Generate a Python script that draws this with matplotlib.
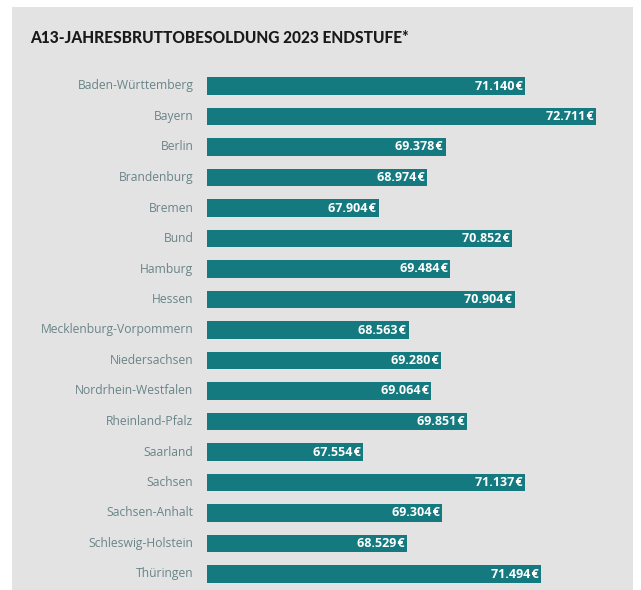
import matplotlib
matplotlib.use("Agg")
import matplotlib.pyplot as plt

states = ["Baden-Württemberg", "Bayern", "Berlin", "Brandenburg", "Bremen", "Bund",
          "Hamburg", "Hessen", "Mecklenburg-Vorpommern", "Niedersachsen",
          "Nordrhein-Westfalen", "Rheinland-Pfalz", "Saarland", "Sachsen",
          "Sachsen-Anhalt", "Schleswig-Holstein", "Thüringen"]
values = [71140, 72711, 69378, 68974, 67904, 70852, 69484, 70904, 68563,
          69280, 69064, 69851, 67554, 71137, 69304, 68529, 71494]
title = "A13-JAHRESBRUTTOBESOLDUNG 2023 ENDSTUFE*"

W, H = 641, 590
fig = plt.figure(figsize=(W / 100, H / 100), dpi=100)
fig.patch.set_facecolor("white")

bg = fig.add_axes([12 / W, 0, (633 - 12) / W, 1 - 7 / H], zorder=-5)
bg.set_facecolor("#e3e3e3")
bg.set_xticks([])
bg.set_yticks([])
for sp in bg.spines.values():
    sp.set_visible(False)

x0, x1 = 207, 622
top, bot = 70.75, 589.25
ax = fig.add_axes([x0 / W, 1 - bot / H, (x1 - x0) / W, (bot - top) / H], zorder=1)
ax.set_facecolor("none")
base = 64100
scale = 0.0452  # px per euro
ax.set_xlim(base, base + (x1 - x0) / scale)
n = len(states)
ax.set_ylim(n - 0.5, -0.5)

teal = "#147a80"
ypos = list(range(n))
ax.barh(ypos, [v - base for v in values], left=base, height=0.58, color=teal)

for y, v, s in zip(ypos, values, states):
    lbl = f"{v:,}".replace(",", ".") + "\u200a€"
    ax.text(v - 60, y, lbl, ha="right", va="center", color="white",
            fontsize=9, fontweight="bold", family=["Open Sans", "DejaVu Sans"])
    ax.text(base - 300, y, s, ha="right", va="center", color="#6a8488",
            fontsize=8.7, family=["Open Sans", "DejaVu Sans"])

ax.set_xticks([])
ax.set_yticks([])
for sp in ax.spines.values():
    sp.set_visible(False)

fig.text(30 / W, 1 - 38 / H, title, ha="left", va="center", fontsize=11.2,
         fontweight=900, color="#1a1a1a", family=["Lato", "DejaVu Sans"])

fig.savefig("out.png", dpi=100, facecolor=fig.get_facecolor())
